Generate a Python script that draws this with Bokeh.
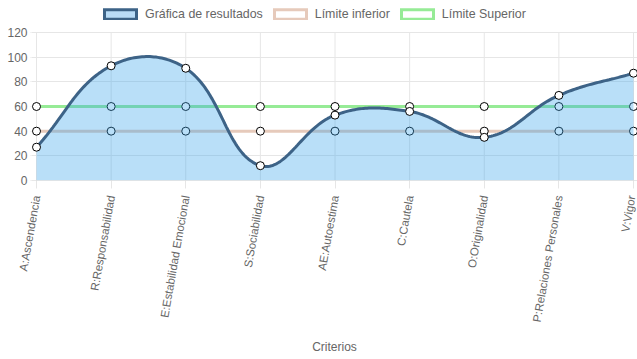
import math
import numpy as np
from bokeh.plotting import figure
from bokeh.models import Range1d, FixedTicker, Legend, LegendItem, Span
from bokeh.embed import file_html
from bokeh.resources import INLINE

categories = ["A:Ascendencia", "R:Responsabilidad", "E:Estabilidad Emocional",
              "S:Sociabilidad", "AE:Autoestima", "C:Cautela", "O:Originalidad",
              "P:Relaciones Personales", "V:Vigor"]
resultados = [27, 93, 91, 12, 53, 56, 35, 69, 87]
limite_inferior = [40, 40, 40, 40, 40, 40, 40, 40, 40]
limite_superior = [60, 60, 60, 60, 60, 60, 60, 60, 60]
y_ticks = [0, 20, 40, 60, 80, 100, 120]

FONT = "Liberation Sans"
GRID = "#e6e6e6"
TXT = "#666666"
RES_LINE = "#3d6387"
RES_FILL = "#b9dcf7"
INF_COL = "#e6cabb"
SUP_COL = "#96eb96"

# geometry (px)
PLOT_H = 148            # height of the 0..120 value band
TOP_BAND = 24           # band above the values that holds the legend
FRAME_W, FRAME_H = 606, PLOT_H + TOP_BAND
XS = 597 / 8.0          # px per category step
YS = PLOT_H / 120.0     # px per value unit
Y_MAX = 120

xs = list(range(len(categories)))

# Chart.js style bezier (tension 0.4) through the result points, computed in pixel space
def spline(values, tension=0.4):
    n = len(values)
    px = np.array(xs, dtype=float) * XS
    py = np.array(values, dtype=float) * YS
    prev_c, next_c = [], []
    for i in range(n):
        a = i - 1 if i > 0 else i
        b = i + 1 if i < n - 1 else i
        d01 = math.hypot(px[i] - px[a], py[i] - py[a])
        d12 = math.hypot(px[b] - px[i], py[b] - py[i])
        tot = d01 + d12
        s01 = d01 / tot if tot else 0
        s12 = d12 / tot if tot else 0
        fa, fb = tension * s01, tension * s12
        pc = [px[i] - fa * (px[b] - px[a]), py[i] - fa * (py[b] - py[a])]
        nc = [px[i] + fb * (px[b] - px[a]), py[i] + fb * (py[b] - py[a])]
        for c in (pc, nc):
            c[0] = min(max(c[0], 0), px[-1])
            c[1] = min(max(c[1], 0), Y_MAX * YS)
        prev_c.append(pc)
        next_c.append(nc)
    cx, cy = [], []
    t = np.linspace(0, 1, 40)
    for i in range(n - 1):
        p0 = (px[i], py[i]); p1 = next_c[i]; p2 = prev_c[i + 1]; p3 = (px[i + 1], py[i + 1])
        bx = ((1 - t) ** 3) * p0[0] + 3 * ((1 - t) ** 2) * t * p1[0] + 3 * (1 - t) * t ** 2 * p2[0] + t ** 3 * p3[0]
        by = ((1 - t) ** 3) * p0[1] + 3 * ((1 - t) ** 2) * t * p1[1] + 3 * (1 - t) * t ** 2 * p2[1] + t ** 3 * p3[1]
        if i > 0:
            bx, by = bx[1:], by[1:]
        cx.extend(bx / XS)
        cy.extend(by / YS)
    return cx, cy

curve_x, curve_y = spline(resultados)

x_start = -5 / XS
x_end = 8 + 4 / XS
y_end = Y_MAX + TOP_BAND / YS

p = figure(frame_width=FRAME_W, frame_height=FRAME_H, output_backend="svg", toolbar_location=None,
           x_range=Range1d(x_start, x_end), y_range=Range1d(0, y_end),
           min_border_left=31, min_border_right=0, min_border_top=8, min_border_bottom=179)
p.outline_line_color = None
p.background_fill_color = "white"

# grids: horizontal from Bokeh grid, vertical as segments limited to 0..120
p.ygrid.ticker = FixedTicker(ticks=y_ticks)
p.ygrid.grid_line_color = GRID
p.xgrid.grid_line_color = None
p.segment(x0=xs, y0=[0] * len(xs), x1=xs, y1=[Y_MAX] * len(xs), line_color=GRID, line_width=1)

# axes
p.yaxis.ticker = FixedTicker(ticks=y_ticks)
p.yaxis.axis_line_color = None
p.yaxis.major_tick_line_color = GRID
p.yaxis.major_tick_out = 1
p.yaxis.major_tick_in = 0
p.yaxis.minor_tick_line_color = None
p.yaxis.major_label_standoff = 3
p.yaxis.major_label_text_font = FONT
p.yaxis.major_label_text_font_size = "12px"
p.yaxis.major_label_text_color = TXT

p.xaxis.ticker = FixedTicker(ticks=xs)
p.xaxis.major_label_overrides = {i: c for i, c in enumerate(categories)}
p.xaxis.major_label_orientation = math.radians(80)
p.xaxis.axis_line_color = None
p.xaxis.major_tick_line_color = GRID
p.xaxis.major_tick_out = 8
p.xaxis.major_tick_in = 0
p.xaxis.minor_tick_line_color = None
p.xaxis.major_label_standoff = 7
p.xaxis.major_label_text_font = FONT
p.xaxis.major_label_text_font_size = "11.5px"
p.xaxis.major_label_text_color = TXT
p.xaxis.axis_label = "Criterios"
p.xaxis.axis_label_text_font = FONT
p.xaxis.axis_label_text_font_size = "12px"
p.xaxis.axis_label_text_font_style = "normal"
p.xaxis.axis_label_text_color = TXT
p.xaxis.axis_label_standoff = 13

p.add_layout(Span(location=0, dimension="width", line_color="#cfcfcf", line_width=1))

# limit lines (drawn below the result fill)
p.line(xs, limite_superior, line_color=SUP_COL, line_width=3)
p.line(xs, limite_inferior, line_color=INF_COL, line_width=3)
p.scatter(xs, limite_superior, marker="circle", size=8, fill_color="white", line_color="black", line_width=1)
p.scatter(xs, limite_inferior, marker="circle", size=8, fill_color="white", line_color="black", line_width=1)

# results
p.varea(x=curve_x, y1=[0] * len(curve_x), y2=curve_y, fill_color="#36a2eb", fill_alpha=0.35)
p.line(curve_x, curve_y, line_color=RES_LINE, line_width=3)
p.scatter(xs, resultados, marker="circle", size=8, fill_color="white", line_color="black", line_width=1)

# legend swatches (renderers with no visible geometry, used only for the legend)
nan = float("nan")
q1 = p.quad(left=[nan], right=[nan], top=[nan], bottom=[nan], fill_color=RES_FILL,
            line_color=RES_LINE, line_width=3, line_join="miter")
q2 = p.quad(left=[nan], right=[nan], top=[nan], bottom=[nan], fill_color="white",
            line_color=INF_COL, line_width=3, line_join="miter")
q3 = p.quad(left=[nan], right=[nan], top=[nan], bottom=[nan], fill_color="white",
            line_color=SUP_COL, line_width=3, line_join="miter")

legend = Legend(items=[LegendItem(label="Gráfica de resultados", renderers=[q1]),
                       LegendItem(label="Límite inferior", renderers=[q2]),
                       LegendItem(label="Límite Superior", renderers=[q3])],
                orientation="horizontal", location=(69, 159),
                glyph_width=40, glyph_height=12, label_standoff=5, spacing=7,
                padding=0, margin=0, border_line_color=None, background_fill_alpha=0,
                label_text_font=FONT, label_text_font_size="12.4px", label_text_color=TXT,
                label_height=12)
p.add_layout(legend)

open("out.html", "w").write(file_html(p, INLINE))
